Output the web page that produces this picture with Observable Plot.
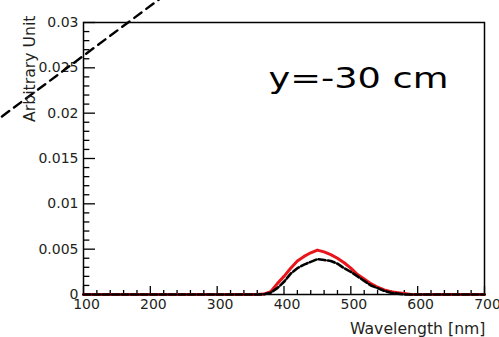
<!DOCTYPE html>
<html>
<head>
<meta charset="utf-8">
<script src="https://cdn.jsdelivr.net/npm/d3@7"></script>
<script src="https://cdn.jsdelivr.net/npm/@observablehq/plot@0.6"></script>
<style>
  html, body { margin: 0; padding: 0; background: #fff; }
  #chart { width: 499px; height: 337px; overflow: hidden; }
</style>
</head>
<body>
<div id="chart"></div>
<script>
// Wavelength samples [nm]
const wavelength = [100, 360, 370, 380, 390, 400, 410, 420, 430, 440, 450, 460, 470, 480, 490, 500, 510, 520, 530, 540, 550, 560, 570, 580, 590, 600, 700];
// Red (solid) series
const redSeries = [0, 0, 0.00005, 0.0003, 0.0012, 0.0020, 0.0029, 0.0037, 0.0042, 0.0046, 0.0049, 0.0047, 0.0044, 0.0040, 0.0035, 0.0029, 0.0022, 0.0017, 0.0012, 0.0008, 0.0005, 0.0003, 0.0002, 0.0001, 0, 0, 0];
// Black (dashed) series
const blackSeries = [0, 0, 0.00003, 0.0002, 0.0007, 0.0014, 0.0023, 0.0029, 0.0033, 0.0036, 0.0039, 0.0038, 0.0037, 0.0034, 0.0029, 0.0025, 0.0020, 0.0015, 0.0010, 0.0007, 0.0004, 0.0002, 0.0001, 0, 0, 0, 0];
// Diagonal dashed guide line (data coordinates, extends past frame)
const guideX = [-40, 230];
const guideY = [0.01865, 0.03348];
// Tick labels
const xMajor = [100, 200, 300, 400, 500, 600, 700];
const yMajor = [0, 0.005, 0.01, 0.015, 0.02, 0.025, 0.03];
const xMinor = d3.range(100, 701, 20).filter(v => !xMajor.includes(v));
const yMinor = d3.range(0, 31, 1).map(v => v / 1000).filter((v, i) => i % 5 !== 0);
const title = "y=-30 cm";
const xLabel = "Wavelength [nm]";
const yLabel = "Arbitrary Unit";

const red = wavelength.map((w, i) => ({w, v: redSeries[i]}));
const black = wavelength.map((w, i) => ({w, v: blackSeries[i]}));
const guide = guideX.map((x, i) => ({x, y: guideY[i]}));

const font = "'DejaVu Sans', sans-serif";
const ink = "#231f20";

const chart = Plot.plot({
  width: 499,
  height: 337,
  marginLeft: 83,
  marginRight: 15,
  marginTop: 22,
  marginBottom: 43,
  style: {fontFamily: font, fontSize: "14px", color: ink, background: "#fff", overflow: "visible"},
  x: {domain: [100, 700]},
  y: {domain: [0, 0.03]},
  marks: [
    Plot.axisX({ticks: xMajor, tickSize: 0, tickPadding: 5, tickFormat: d => String(d), dx: 3, label: null, fill: ink}),
    Plot.axisY({ticks: yMajor, tickSize: 0, tickPadding: 5, tickFormat: d => String(d), label: null, fill: ink}),
    Plot.ruleX(xMajor, {x: d => d, y1: 0, y2: 0.00088, stroke: "#000", strokeWidth: 1.3}),
    Plot.ruleX(xMinor, {x: d => d, y1: 0, y2: 0.00044, stroke: "#000", strokeWidth: 1.3}),
    Plot.ruleY(yMajor, {y: d => d, x1: 100, x2: 118, stroke: "#000", strokeWidth: 1.3}),
    Plot.ruleY(yMinor, {y: d => d, x1: 100, x2: 109.5, stroke: "#000", strokeWidth: 1.3}),
    Plot.frame({stroke: "#000", strokeWidth: 1.5}),
    Plot.line(red, {x: "w", y: "v", stroke: "#e8151b", strokeWidth: 3}),
    Plot.line(black, {x: "w", y: "v", stroke: "#000", strokeWidth: 2.6, strokeDasharray: "7,2.5"}),
    Plot.line(guide, {x: "x", y: "y", stroke: "#000", strokeWidth: 2.4, strokeDasharray: "9,6", clip: false}),
    Plot.text([title], {frameAnchor: "top-left", dx: 185, dy: 65, textAnchor: "start", lineAnchor: "bottom", fontSize: 29, fill: "#000"}),
    Plot.text([xLabel], {frameAnchor: "bottom-right", dx: 1, dy: 39, textAnchor: "end", lineAnchor: "bottom", fontSize: 15.7, fill: ink}),
    Plot.text([yLabel], {frameAnchor: "top-left", dx: -49, dy: -7, rotate: -90, textAnchor: "end", lineAnchor: "bottom", fontSize: 15.7, fill: ink})
  ]
});
// stretch the large annotation horizontally to match the reference's wide lettering
chart.querySelectorAll("text").forEach(t => {
  if (t.textContent === title) {
    t.setAttribute("textLength", 180);
    t.setAttribute("lengthAdjust", "spacingAndGlyphs");
  }
});
document.getElementById("chart").appendChild(chart);
</script>
</body>
</html>
